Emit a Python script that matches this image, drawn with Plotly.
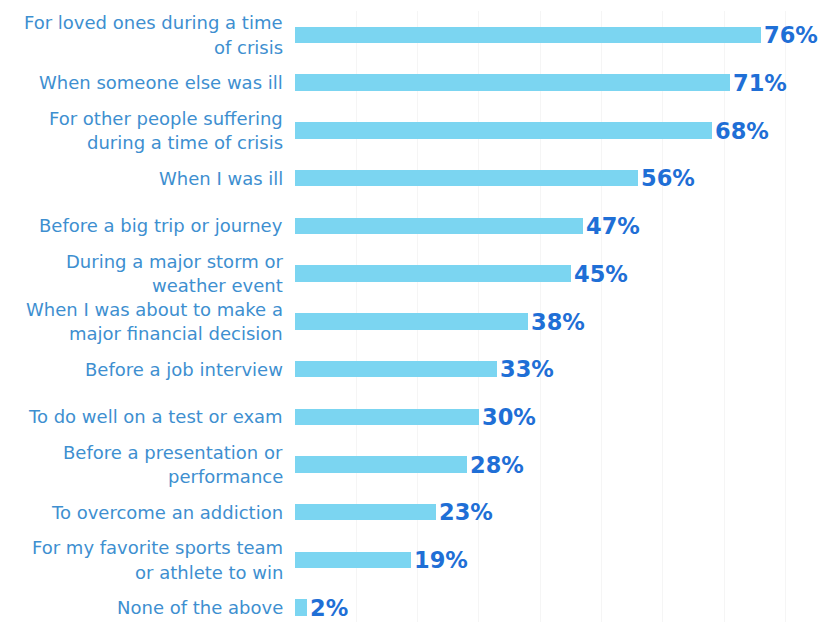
import plotly.graph_objects as go

categories = [
    "For loved ones during a time<br>of crisis",
    "When someone else was ill",
    "For other people suffering<br>during a time of crisis",
    "When I was ill",
    "Before a big trip or journey",
    "During a major storm or<br>weather event",
    "When I was about to make a<br>major financial decision",
    "Before a job interview",
    "To do well on a test or exam",
    "Before a presentation or<br>performance",
    "To overcome an addiction",
    "For my favorite sports team<br>or athlete to win",
    "None of the above",
]
values = [76, 71, 68, 56, 47, 45, 38, 33, 30, 28, 23, 19, 2]
value_labels = [f"{v}%" for v in values]

LABEL_COLOR = "#3e8fd0"
VALUE_COLOR = "#1f6fd6"
BAR_COLOR = "#7bd5f1"

idx = list(range(len(categories)))

fig = go.Figure(go.Bar(
    x=values,
    y=idx,
    orientation="h",
    width=0.345,
    marker=dict(color=BAR_COLOR, line=dict(width=0)),
    text=value_labels,
    textposition="outside",
    constraintext="none",
    cliponaxis=False,
    textfont=dict(family="DejaVu Sans", size=22.5, color=VALUE_COLOR, weight="bold"),
))

annotations = []
for i, lab in zip(idx, categories):
    lines = lab.split("<br>")
    n = len(lines)
    for k, line in enumerate(lines):
        shift = (n - 1) / 2 * 24.5 - k * 24.5
        annotations.append(dict(
            x=0, y=i, xref="x", yref="y", text=line, showarrow=False,
            xanchor="right", yanchor="middle", xshift=-10, yshift=shift,
            font=dict(family="DejaVu Sans", size=18, color=LABEL_COLOR),
        ))

fig.update_layout(
    width=819, height=618,
    margin=dict(l=287, r=0, t=3, b=4),
    paper_bgcolor="white", plot_bgcolor="white",
    showlegend=False,
    annotations=annotations,
    bargap=0,
)
fig.update_xaxes(range=[0, 86.8], dtick=10, showgrid=True, gridcolor="#f5f5f5",
                 gridwidth=1, zeroline=False, showticklabels=False, ticks="")
fig.update_yaxes(range=[12.3, -0.5], showticklabels=False, showgrid=False,
                 zeroline=False, ticks="")

fig.write_html("out.html")
